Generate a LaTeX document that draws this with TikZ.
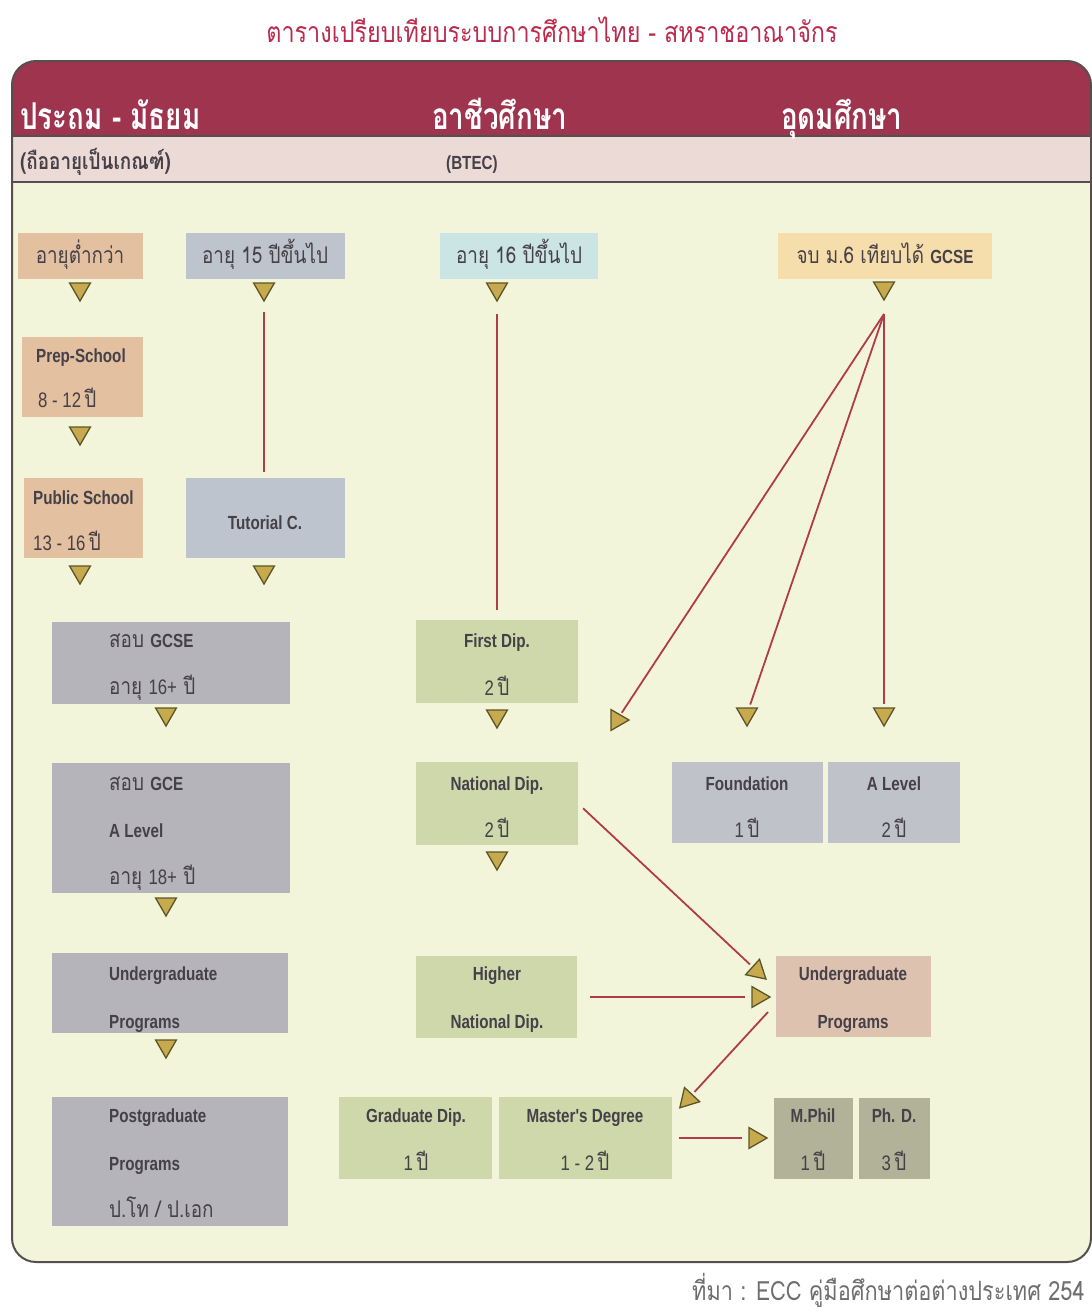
\documentclass[tikz,border=0pt]{standalone}
\usepackage{fontspec}
\usetikzlibrary{shapes.geometric}
\newfontfamily\thf[Script=Thai]{Loma}
\newfontfamily\thn[Script=Thai,FakeStretch=0.82]{Loma}
\newfontfamily\thh[Script=Thai,FakeStretch=0.75]{Loma}
\newfontfamily\latf[FakeStretch=0.8]{Liberation Sans}
\definecolor{bodybg}{RGB}{243,245,218}
\definecolor{hdr}{RGB}{158,52,78}
\definecolor{subh}{RGB}{236,218,214}
\definecolor{framec}{RGB}{85,80,78}
\definecolor{salmon}{RGB}{226,192,160}
\definecolor{bgray}{RGB}{190,196,206}
\definecolor{lcyan}{RGB}{203,228,228}
\definecolor{lorange}{RGB}{246,222,172}
\definecolor{mgray}{RGB}{181,180,186}
\definecolor{lgreen}{RGB}{206,216,170}
\definecolor{fgray}{RGB}{192,194,202}
\definecolor{pinkb}{RGB}{222,194,176}
\definecolor{olgray}{RGB}{178,178,152}
\definecolor{trif}{RGB}{200,170,78}
\definecolor{trid}{RGB}{92,84,40}
\definecolor{linec}{RGB}{175,60,70}
\definecolor{txt}{RGB}{70,64,72}
\definecolor{ttl}{RGB}{186,44,78}
\definecolor{srcc}{RGB}{110,110,110}
\newcommand\fTh{\thn\fontsize{23}{26}\selectfont}
\newcommand\fLa{\latf\bfseries\fontsize{19}{22}\selectfont}
\newcommand\fNu{\latf\fontsize{21}{24}\selectfont}
\newcommand\yr[1]{{\fNu #1} {\fTh ปี}}
\newcommand\bxn[6]{\node[boxs,fill=#2,minimum width={#5-#3},minimum height={#6-#4}] (#1) at ({(#3+#5)/2},{(#4+#6)/2}) {};}
\begin{document}
\begin{tikzpicture}[x=1pt,y=-1pt,
  boxs/.style={draw=none,inner sep=0pt,outer sep=0pt},
  tri/.style={regular polygon,regular polygon sides=3,minimum size=24pt,inner sep=0pt,fill=trif,draw=trid,line width=1.3pt},
  down/.style={tri,regular polygon rotate=180},
  link/.style={draw=linec,line width=1.8pt},
  lab/.style={inner sep=0pt,text=txt,anchor=base west},
  labc/.style={inner sep=0pt,text=txt,anchor=base},
  hd/.style={inner sep=0pt,text=white,anchor=base west,font=\thh\bfseries\fontsize{37}{39}\selectfont}]
\useasboundingbox (0,0) rectangle (1092,1312);
\fill[white] (0,0) rectangle (1092,1312);
\begin{scope}
\clip[rounded corners=24pt] (12,61) rectangle (1091,1262);
\fill[bodybg] (0,0) rectangle (1092,1312);
\fill[hdr] (0,0) rectangle (1092,136);
\fill[subh] (0,136) rectangle (1092,182);
\draw[line width=1.5pt,framec] (0,136) -- (1092,136);
\draw[line width=2pt,framec] (0,182) -- (1092,182);
\end{scope}
\draw[line width=2pt,framec,rounded corners=24pt] (12,61) rectangle (1091,1262);
% title and headers
\node[inner sep=0pt,text=ttl,anchor=base] (title) at (552,42) {\thn\fontsize{28.5}{30}\selectfont ตารางเปรียบเทียบระบบการศึกษาไทย - สหราชอาณาจักร};
\node[hd] (h1) at (20,129) {ประถม - มัธยม};
\node[hd] (h2) at (432,129) {อาชีวศึกษา};
\node[hd] (h3) at (781,129) {อุดมศึกษา};
\node[lab] (s1) at (20,169) {\thn\bfseries\fontsize{23}{26}\selectfont (ถืออายุเป็นเกณฑ์)};
\node[lab] (s2) at (446,169) {\fLa (BTEC)};
% boxes
\bxn{a1}{salmon}{18}{233}{143}{279}
\bxn{a2}{bgray}{186}{233}{345}{279}
\bxn{a3}{lcyan}{440}{233}{598}{279}
\bxn{a4}{lorange}{778}{233}{992}{279}
\bxn{prep}{salmon}{22}{337}{143}{417}
\bxn{pub}{salmon}{24}{478}{143}{558}
\bxn{tut}{bgray}{186}{478}{345}{558}
\bxn{gcse}{mgray}{52}{622}{290}{704}
\bxn{gce}{mgray}{52}{763}{290}{893}
\bxn{ugL}{mgray}{52}{953}{288}{1033}
\bxn{pgL}{mgray}{52}{1097}{288}{1226}
\bxn{first}{lgreen}{416}{620}{578}{703}
\bxn{natdip}{lgreen}{416}{762}{578}{845}
\bxn{higher}{lgreen}{416}{956}{577}{1038}
\bxn{grad}{lgreen}{339}{1097}{492}{1179}
\bxn{master}{lgreen}{499}{1097}{672}{1179}
\bxn{found}{fgray}{672}{762}{823}{843}
\bxn{alev}{fgray}{828}{762}{960}{843}
\bxn{ugR}{pinkb}{776}{956}{931}{1037}
\bxn{mphil}{olgray}{774}{1098}{853}{1179}
\bxn{phd}{olgray}{859}{1098}{930}{1179}
% triangles
\node[down] (t1) at (80,289) {};
\node[down] (t2) at (264,289) {};
\node[down] (t3) at (497,289) {};
\node[down] (tG) at (884,288) {};
\node[down] (tPrep) at (80,433) {};
\node[down] (tPub) at (80,572) {};
\node[down] (tTut) at (264,572) {};
\node[down] (tGcse) at (166,714) {};
\node[down] (tGce) at (166,904) {};
\node[down] (tUg) at (166,1046) {};
\node[down] (tFirst) at (497,716) {};
\node[down] (tNat) at (497,858) {};
\node[down] (tFound) at (747,714) {};
\node[down] (tAlev) at (884,714) {};
\node[tri,regular polygon rotate=-90] (rFirst) at (617,720) {};
\node[tri,regular polygon rotate=-12] (rU1) at (757,971) {};
\node[tri,regular polygon rotate=-90] (rU2) at (758,997) {};
\node[tri,regular polygon rotate=137] (rM) at (688,1099) {};
\node[tri,regular polygon rotate=-90] (rP) at (755,1138) {};
% connectors
\coordinate (apex) at (884,314);
\draw[link,shorten <=10pt,shorten >=6pt] (t2) -- (t2 |- tut.north);
\draw[link,shorten <=12pt,shorten >=10pt] (t3) -- (first);
\draw[link,shorten >=2pt] (apex) -- (rFirst);
\draw[link,shorten >=3pt] (apex) -- (tFound);
\draw[link,shorten >=3pt] (apex) -- (tAlev);
\draw[link,shorten <=7pt,shorten >=3pt] (natdip.east) -- (rU1);
\draw[link,shorten <=13pt,shorten >=6pt] (higher.east) -- (rU2);
\coordinate (ugRs) at (768,1012);
\draw[link,shorten >=3pt] (ugRs) -- (rM);
\draw[link,shorten <=7pt,shorten >=6pt] (master.east) -- (rP);
% labels
\node[labc] (la1) at (80,263) {\fTh อายุต่ำกว่า};
\node[labc] (la2) at (265,263) {\fTh อายุ 15 ปีขึ้นไป};
\node[labc] (la3) at (519,263) {\fTh อายุ 16 ปีขึ้นไป};
\node[labc] (la4) at (885,263) {\fTh จบ ม.6 เทียบได้ {\fLa GCSE}};
\node[lab] (lp1) at (36,362) {\fLa Prep-School};
\node[lab] (lp2) at (38,407) {\yr{8 - 12}};
\node[lab] (lq1) at (33,504) {\fLa Public School};
\node[lab] (lq2) at (33,550) {\yr{13 - 16}};
\node[labc] (lt) at (265,529) {\fLa Tutorial C.};
\node[lab] (lg1) at (109,647) {\fTh สอบ {\fLa GCSE}};
\node[lab] (lg2) at (109,694) {\fTh อายุ {\fNu 16+} ปี};
\node[lab] (le1) at (109,790) {\fTh สอบ {\fLa GCE}};
\node[lab] (le2) at (109,837) {\fLa A Level};
\node[lab] (le3) at (109,884) {\fTh อายุ {\fNu 18+} ปี};
\node[lab] (lu1) at (109,980) {\fLa Undergraduate};
\node[lab] (lu2) at (109,1028) {\fLa Programs};
\node[lab] (lv1) at (109,1122) {\fLa Postgraduate};
\node[lab] (lv2) at (109,1170) {\fLa Programs};
\node[lab] (lv3) at (109,1217) {\fTh ป.โท / ป.เอก};
\node[labc] (lf1) at (497,647) {\fLa First Dip.};
\node[labc] (lf2) at (497,695) {\yr{2}};
\node[labc] (ln1) at (497,790) {\fLa National Dip.};
\node[labc] (ln2) at (497,837) {\yr{2}};
\node[labc] (lh1) at (497,980) {\fLa Higher};
\node[labc] (lh2) at (497,1028) {\fLa National Dip.};
\node[labc] (lo1) at (747,790) {\fLa Foundation};
\node[labc] (lo2) at (747,837) {\yr{1}};
\node[labc] (lA1) at (894,790) {\fLa A Level};
\node[labc] (lA2) at (894,837) {\yr{2}};
\node[labc] (lr1) at (853,980) {\fLa Undergraduate};
\node[labc] (lr2) at (853,1028) {\fLa Programs};
\node[labc] (lgd1) at (416,1122) {\fLa Graduate Dip.};
\node[labc] (lgd2) at (416,1170) {\yr{1}};
\node[labc] (lm1) at (585,1122) {\fLa Master's Degree};
\node[labc] (lm2) at (585,1170) {\yr{1 - 2}};
\node[labc] (lph1) at (813,1122) {\fLa M.Phil};
\node[labc] (lph2) at (813,1170) {\yr{1}};
\node[labc] (ld1) at (894,1122) {\fLa Ph. D.};
\node[labc] (ld2) at (894,1170) {\yr{3}};
\node[inner sep=0pt,text=srcc,anchor=base west] (src) at (692,1300) {\thn\fontsize{26.5}{28}\selectfont ที่มา : ECC คู่มือศึกษาต่อต่างประเทศ 254};
\end{tikzpicture}
\end{document}
